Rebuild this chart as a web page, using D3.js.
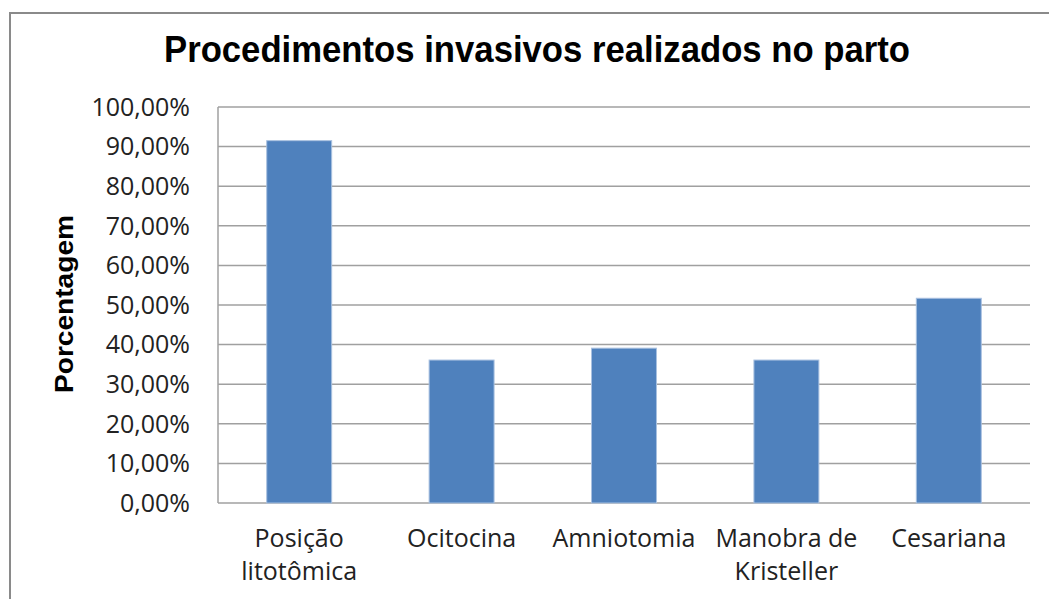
<!DOCTYPE html>
<html>
<head>
<meta charset="utf-8">
<script src="https://cdn.jsdelivr.net/npm/d3@7"></script>
<style>
  body { margin: 0; background: #fff; }
</style>
</head>
<body>
<div id="chart"></div>
<script>
// data
const categories = [["Posição", "litotômica"], ["Ocitocina"], ["Amniotomia"], ["Manobra de", "Kristeller"], ["Cesariana"]];
const values = [91.5, 36.1, 39.1, 36.1, 51.7];
const yTicks = [0, 10, 20, 30, 40, 50, 60, 70, 80, 90, 100];
const title = "Procedimentos invasivos realizados no parto";
const yTitle = "Porcentagem";

const width = 1049, height = 599;
const plot = { left: 218, right: 1030, top: 107, bottom: 503 };

const svg = d3.select("#chart").append("svg")
  .attr("width", width)
  .attr("height", height);

// outer chart border (runs off the right and bottom edges)
svg.append("rect")
  .attr("x", 10).attr("y", 13)
  .attr("width", 1100).attr("height", 700)
  .attr("fill", "none")
  .attr("stroke", "#8a8a8a")
  .attr("stroke-width", 2);

const x = d3.scaleBand()
  .domain(categories.map((d, i) => i))
  .range([plot.left, plot.right])
  .paddingInner(0.6)
  .paddingOuter(0.3);

const y = d3.scaleLinear()
  .domain([0, 100])
  .range([plot.bottom, plot.top]);

// gridlines
svg.append("g")
  .selectAll("line")
  .data(yTicks)
  .join("line")
  .attr("x1", plot.left).attr("x2", plot.right)
  .attr("y1", d => y(d)).attr("y2", d => y(d))
  .attr("stroke", "#a0a0a0")
  .attr("stroke-width", 1.5);

// y axis line
svg.append("line")
  .attr("x1", plot.left).attr("x2", plot.left)
  .attr("y1", plot.top).attr("y2", plot.bottom)
  .attr("stroke", "#a0a0a0")
  .attr("stroke-width", 1.5);

// bars
svg.append("g")
  .selectAll("rect")
  .data(values)
  .join("rect")
  .attr("x", (d, i) => x(i))
  .attr("width", x.bandwidth())
  .attr("y", d => y(d))
  .attr("height", d => y(0) - y(d))
  .attr("fill", "#4f81bd")
  .attr("stroke", "#a9c1e0")
  .attr("stroke-width", 1);

// y tick labels
svg.append("g")
  .selectAll("text")
  .data(yTicks)
  .join("text")
  .attr("x", 190)
  .attr("y", d => y(d))
  .attr("dy", "0.35em")
  .attr("text-anchor", "end")
  .style("font-family", "'Open Sans', sans-serif")
  .style("font-size", "25px")
  .style("fill", "#222")
  .text(d => d3.format(".2f")(d).replace(".", ",") + "%");

// category labels
const cat = svg.append("g")
  .selectAll("text")
  .data(categories)
  .join("text")
  .attr("text-anchor", "middle")
  .style("font-family", "'Open Sans', sans-serif")
  .style("font-size", "25px")
  .style("fill", "#222");

cat.selectAll("tspan")
  .data((d, i) => d.map(s => ({ s, i })))
  .join("tspan")
  .attr("x", d => x(d.i) + x.bandwidth() / 2)
  .attr("y", (d, j) => 547 + j * 33)
  .text(d => d.s);

// title
svg.append("text")
  .attr("x", 537)
  .attr("y", 62)
  .attr("text-anchor", "middle")
  .attr("textLength", 746)
  .attr("lengthAdjust", "spacingAndGlyphs")
  .style("font-family", "'Liberation Sans', Arial, sans-serif")
  .style("font-weight", "bold")
  .style("font-size", "36px")
  .style("fill", "#000")
  .text(title);

// y axis title
svg.append("text")
  .attr("transform", "translate(73,304) rotate(-90)")
  .attr("text-anchor", "middle")
  .attr("textLength", 178)
  .attr("lengthAdjust", "spacingAndGlyphs")
  .style("font-family", "'Liberation Sans', Arial, sans-serif")
  .style("font-weight", "bold")
  .style("font-size", "26px")
  .style("fill", "#000")
  .text(yTitle);
</script>
</body>
</html>
